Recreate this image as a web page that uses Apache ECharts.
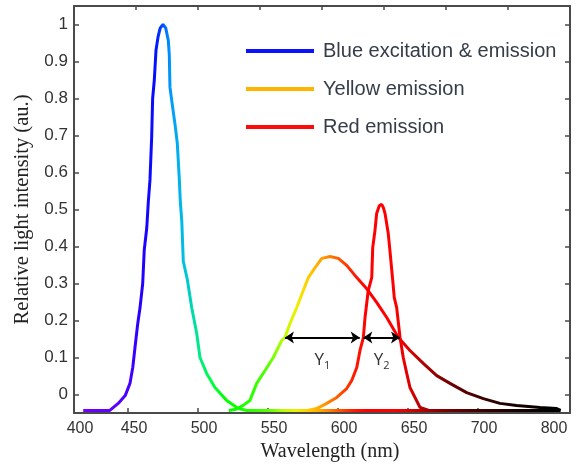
<!DOCTYPE html>
<html>
<head>
<meta charset="utf-8">
<script src="https://cdn.jsdelivr.net/npm/echarts@6/dist/echarts.min.js"></script>
<style>
  html, body { margin: 0; padding: 0; background: #fff; }
  #chart { width: 578px; height: 468px; }
</style>
</head>
<body>
<div id="chart"></div>
<script>
// Emission spectra of a phosphor-converted LED: [wavelength (nm), relative intensity]
const blueEmission = [
  [418, -0.043], [430, -0.043], [437, -0.043], [443, -0.024], [448, -0.003],
  [451.4, 0.03], [453.4, 0.073], [455, 0.127], [456.9, 0.19], [458.6, 0.235],
  [460.5, 0.30], [461.6, 0.39], [463.4, 0.45], [464.5, 0.52], [465.7, 0.58],
  [466.9, 0.695], [467.6, 0.80], [468.8, 0.85], [470, 0.93], [471.4, 0.965],
  [473, 0.99], [475, 1.0], [477, 0.99], [478.8, 0.957], [479.5, 0.92],
  [480, 0.83], [481.9, 0.776], [483.6, 0.73], [485.2, 0.68], [486.6, 0.586],
  [487.4, 0.52], [488.4, 0.47], [489.5, 0.36], [492.4, 0.31], [495.5, 0.235],
  [499.1, 0.165], [501.4, 0.10], [506.2, 0.057], [512.1, 0.019], [520.5, -0.016],
  [528.8, -0.038], [535, -0.043], [560, -0.043], [600, -0.043], [650, -0.043],
  [700, -0.043], [759, -0.043]
];
const yellowEmission = [
  [522, -0.043], [527, -0.04], [532, -0.03], [537.1, -0.016], [541.9, 0.03],
  [547.9, 0.065], [553.8, 0.1], [559.8, 0.146], [562.1, 0.154], [565.7, 0.192],
  [570.5, 0.235], [575.2, 0.281], [578.8, 0.316], [583.6, 0.343], [588.4, 0.368],
  [594.3, 0.373], [600.2, 0.368], [606.2, 0.349], [613.4, 0.316], [620.5, 0.286],
  [627.6, 0.249], [634.8, 0.208], [643.1, 0.154], [651.4, 0.119], [660.9, 0.084],
  [670.5, 0.051], [680, 0.03], [691.9, 0.005], [703.8, -0.011], [715.7, -0.024],
  [727.6, -0.03], [744.3, -0.035], [756.2, -0.038], [759, -0.043]
];
const redEmission = [
  [578, -0.043], [584.8, -0.038], [591.9, -0.024], [599.1, -0.008], [606.2, 0.016],
  [609.8, 0.038], [613.4, 0.073], [615.7, 0.119], [618.1, 0.154], [619.3, 0.208],
  [621.6, 0.281], [624.1, 0.316], [624.8, 0.397], [626.4, 0.443], [627.6, 0.489],
  [629.5, 0.51], [631.2, 0.514], [632.4, 0.505], [633.6, 0.489], [635.9, 0.435],
  [637.1, 0.389], [639.1, 0.308], [640.2, 0.262], [641.9, 0.235], [644.3, 0.154],
  [646.6, 0.1], [649.1, 0.057], [651.4, 0.019], [655, -0.008], [658.6, -0.035],
  [665, -0.043]
];

// Spectral colour of the trace, one stop every 10 nm from 410 to 770 nm
const spectrumColors = [
  '#7a00ff', '#7000ff', '#6600ff', '#5c00ff', '#4a00ff', '#2200ff', '#0010ff', '#0098ff',
  '#00c0e0', '#00e890', '#00ff40', '#00ff00', '#14ff00', '#30ff00', '#58ff00', '#b0ff00',
  '#f0f000', '#ffc800', '#ff9800', '#ff5a00', '#ff2000', '#ff0000', '#ff0000', '#ff0000',
  '#e00000', '#b40000', '#900000', '#700000', '#580000', '#420000', '#300000', '#200000',
  '#140000', '#0a0000', '#000000', '#000000', '#000000'
];

// Axis ticks and their printed labels
const xTickValues = [450, 500, 550, 600, 650, 700, 750];
const xLabelValues = [411.43, 450, 500, 550, 600, 650, 700, 750];
const xTickLabels = ['400', '450', '500', '550', '600', '650', '700', '800'];
const yTickValues = [0, 0.1, 0.2, 0.3, 0.4, 0.5, 0.6, 0.7, 0.8, 0.9, 1];
const yTickLabels = ['0', '0.1', '0.2', '0.3', '0.4', '0.5', '0.6', '0.7', '0.8', '0.9', '1'];

// Full widths at the level of the double arrows
const arrowLevel = 0.154;
const gapY1 = [562.1, 615.5];
const gapY2 = [618.1, 644.3];

const seriesNames = ['Blue excitation & emission', 'Yellow emission', 'Red emission'];
const legendColors = ['#0a12ff', '#ffb400', '#ff0a0a'];

const axisColor = '#4a4a4a';

function nearestLabel(values, labels, v) {
  let best = 0;
  for (let i = 1; i < values.length; i++) {
    if (Math.abs(values[i] - v) < Math.abs(values[best] - v)) best = i;
  }
  return labels[best];
}

const chart = echarts.init(document.getElementById('chart'), null, { renderer: 'canvas' });

chart.setOption({
  animation: false,
  backgroundColor: '#fff',
  grid: { left: 74, right: 8, top: 6, bottom: 55, containLabel: false },
  legend: {
    orient: 'vertical',
    left: 241,
    top: 36,
    itemWidth: 68,
    itemHeight: 4,
    itemGap: 18,
    icon: 'rect',
    selectedMode: false,
    textStyle: {
      fontFamily: 'Liberation Sans, Arial, sans-serif',
      fontSize: 20,
      color: '#343c48',
      padding: [0, 0, 0, 4]
    },
    data: seriesNames.map((n, i) => ({ name: n, itemStyle: { color: legendColors[i] } }))
  },
  visualMap: {
    type: 'continuous',
    show: false,
    dimension: 0,
    seriesIndex: [0, 1, 2],
    min: 410,
    max: 770,
    inRange: { color: spectrumColors }
  },
  xAxis: [
    {
      type: 'value',
      position: 'bottom',
      min: 411.43,
      max: 765.71,
      name: 'Wavelength (nm)',
      nameLocation: 'middle',
      nameGap: 29,
      nameTextStyle: {
        fontFamily: 'Liberation Serif, Times New Roman, serif',
        fontSize: 20,
        color: '#222',
        padding: [0, 0, 0, 16]
      },
      axisLine: { onZero: false, lineStyle: { color: axisColor, width: 2 } },
      axisTick: { inside: true, length: 5, customValues: xTickValues, lineStyle: { color: axisColor, width: 1.5 } },
      axisLabel: {
        customValues: xLabelValues,
        margin: 8,
        fontFamily: 'Liberation Sans, Arial, sans-serif',
        fontSize: 16,
        color: '#333',
        padding: [0, 0, 0, 12],
        formatter: v => nearestLabel(xLabelValues, xTickLabels, v)
      },
      splitLine: { show: false }
    },
    {
      type: 'value',
      position: 'top',
      min: 400,
      max: 800,
      interval: 50,
      axisLine: { onZero: false, lineStyle: { color: axisColor, width: 2 } },
      axisTick: { inside: true, length: 4, lineStyle: { color: axisColor, width: 1.5 } },
      axisLabel: { show: false },
      splitLine: { show: false }
    }
  ],
  yAxis: [
    {
      type: 'value',
      position: 'left',
      min: -0.05,
      max: 1.05,
      name: 'Relative light intensity (au.)',
      nameLocation: 'middle',
      nameGap: 41,
      nameTextStyle: {
        fontFamily: 'Liberation Serif, Times New Roman, serif',
        fontSize: 20.5,
        color: '#222'
      },
      axisLine: { onZero: false, lineStyle: { color: axisColor, width: 2 } },
      axisTick: { inside: true, length: 5, customValues: yTickValues, lineStyle: { color: axisColor, width: 1.5 } },
      axisLabel: {
        customValues: yTickValues,
        margin: 6,
        fontFamily: 'Liberation Sans, Arial, sans-serif',
        fontSize: 17,
        color: '#333',
        formatter: v => nearestLabel(yTickValues, yTickLabels, v)
      },
      splitLine: { show: false }
    },
    {
      type: 'value',
      position: 'right',
      min: -0.05,
      max: 1.05,
      axisLine: { onZero: false, lineStyle: { color: axisColor, width: 2 } },
      axisTick: { inside: true, length: 5, customValues: yTickValues, lineStyle: { color: axisColor, width: 1.5 } },
      axisLabel: { show: false },
      splitLine: { show: false }
    }
  ],
  series: [
    {
      name: seriesNames[0], type: 'line', data: blueEmission,
      showSymbol: false, symbol: 'none', lineStyle: { width: 3 }, z: 2
    },
    {
      name: seriesNames[1], type: 'line', data: yellowEmission,
      showSymbol: false, symbol: 'none', lineStyle: { width: 3 }, z: 3
    },
    {
      name: seriesNames[2], type: 'line', data: redEmission,
      showSymbol: false, symbol: 'none', lineStyle: { width: 3 }, z: 4
    },
    {
      name: 'widths', type: 'line', data: [], z: 5,
      markLine: {
        silent: true,
        symbol: ['arrow', 'arrow'],
        symbolSize: [9, 9],
        lineStyle: { color: '#000', width: 2, type: 'solid' },
        label: {
          show: true,
          position: 'insideMiddleBottom',
          distance: 12,
          rich: {
            y: { fontFamily: 'Open Sans, Liberation Sans, sans-serif', fontSize: 17, color: '#333', lineHeight: 22 },
            s: { fontFamily: 'Open Sans, Liberation Sans, sans-serif', fontSize: 11, color: '#333', lineHeight: 12, verticalAlign: 'bottom' }
          }
        },
        data: [
          [
            { coord: [gapY1[0], arrowLevel], label: { formatter: '{y|Y}{s|1}' } },
            { coord: [gapY1[1], arrowLevel] }
          ],
          [
            { coord: [gapY2[0], arrowLevel], label: { formatter: '{y|Y}{s|2}' } },
            { coord: [gapY2[1], arrowLevel] }
          ]
        ]
      }
    }
  ]
});
</script>
</body>
</html>
